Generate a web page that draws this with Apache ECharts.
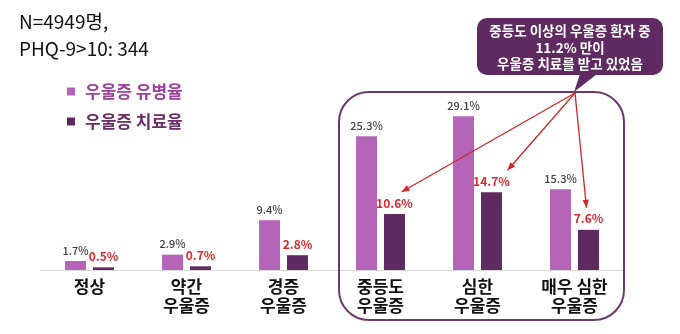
<!DOCTYPE html>
<html><head><meta charset="utf-8">
<script src="https://cdn.jsdelivr.net/npm/echarts@6/dist/echarts.min.js"></script>
<style>html,body{margin:0;padding:0;background:#fff}#c{width:680px;height:334px}</style>
</head><body><div id="c"></div>
<script>
const categories = ['정상', '약간\n우울증', '경증\n우울증', '중등도\n우울증', '심한\n우울증', '매우 심한\n우울증'];
const prevalence = [1.7, 2.9, 9.4, 25.3, 29.1, 15.3];
const treatment = [0.5, 0.7, 2.8, 10.6, 14.7, 7.6];
const seriesNames = ['우울증 유병율', '우울증 치료율'];
const titleLines = ['N=4949명,', 'PHQ-9>10: 344'];
const calloutLines = ['중등도 이상의 우울증 환자 중', '11.2% 만이', '우울증 치료를 받고 있었음'];
const arrowTargets = [3, 4, 5];

const FONT = '"Noto Sans CJK KR", "Noto Sans", sans-serif';
const LIGHT = '#b565b8';
const DARK = '#5f2a5f';
const chart = echarts.init(document.getElementById('c'));

const option = {
  animation: false,
  textStyle: { fontFamily: FONT },
  grid: { left: 41, right: 57, top: 85, bottom: 64 },
  legend: {
    orient: 'vertical', left: 62, top: 78, itemWidth: 8, itemHeight: 8, itemGap: 13,
    icon: 'rect',
    data: [
      { name: seriesNames[0], textStyle: { color: '#a0409e' } },
      { name: seriesNames[1], textStyle: { color: '#6a2d68' } }
    ],
    textStyle: { fontSize: 17, fontWeight: 'bold', fontFamily: FONT, padding: [0, 0, 0, 5] }
  },
  xAxis: {
    type: 'category', data: categories,
    axisTick: { show: false },
    axisLine: { lineStyle: { color: '#d9d9d9', width: 1 } },
    axisLabel: { fontSize: 17, fontWeight: 'bold', color: '#111', lineHeight: 19, margin: 7, interval: 0, fontFamily: FONT }
  },
  yAxis: { type: 'value', min: 0, max: 35, show: false, splitLine: { show: false } },
  series: [
    {
      name: seriesNames[0], type: 'bar', data: prevalence, barWidth: 21, barGap: '33%',
      itemStyle: { color: LIGHT },
      label: { show: true, position: 'top', distance: 5, formatter: '{c}%', color: '#404040', fontSize: 11, fontWeight: 500, fontFamily: FONT }
    },
    {
      name: seriesNames[1], type: 'bar', data: treatment, barWidth: 21,
      itemStyle: { color: DARK },
      label: { show: true, position: 'top', distance: 5, formatter: '{c}%', color: '#e0262a', fontSize: 12, fontWeight: 'bold', fontFamily: FONT }
    }
  ]
};
chart.setOption(option);

// annotations
const g = [];
g.push({ type: 'text', left: 19, top: 8, style: { text: titleLines.join('\n'), font: '19px ' + FONT, fill: '#111', lineHeight: 27 } });
// rounded frame around severe categories
g.push({ type: 'rect', shape: { x: 339, y: 92, width: 285, height: 228, r: 30 }, style: { fill: 'none', stroke: '#6b3a6e', lineWidth: 2 }, z: 1 });
// callout
g.push({ type: 'rect', shape: { x: 477, y: 18, width: 186, height: 57, r: 10 }, style: { fill: '#5f2a62' }, z: 5 });
g.push({ type: 'polygon', shape: { points: [[574, 92], [580, 74], [597, 74]] }, style: { fill: '#5f2a62' }, z: 5 });
g.push({ type: 'text', x: 570, y: 23, style: { text: calloutLines.join('\n'), font: 'bold 13.5px ' + FONT, fill: '#fff', align: 'center', lineHeight: 16.5 }, z: 6 });

const origin = [575, 93];
const offsets = [[7, -22], [16, -22], [-2, -22]];
arrowTargets.forEach((idx, k) => {
  const p = chart.convertToPixel({ seriesIndex: 1 }, [idx, treatment[idx]]);
  const end = [p[0] + 14 + offsets[k][0], p[1] + offsets[k][1]];
  g.push({ type: 'line', shape: { x1: origin[0], y1: origin[1], x2: end[0], y2: end[1] }, style: { stroke: '#d0262a', lineWidth: 1.3 }, z: 7 });
  const ang = Math.atan2(end[1] - origin[1], end[0] - origin[0]);
  const L = 8, W = 3.2;
  const bx = end[0] - L * Math.cos(ang), by = end[1] - L * Math.sin(ang);
  g.push({ type: 'polygon', shape: { points: [end, [bx + W * Math.sin(ang), by - W * Math.cos(ang)], [bx - W * Math.sin(ang), by + W * Math.cos(ang)]] }, style: { fill: '#d0262a' }, z: 7 });
});
chart.setOption({ graphic: g });
</script></body></html>
